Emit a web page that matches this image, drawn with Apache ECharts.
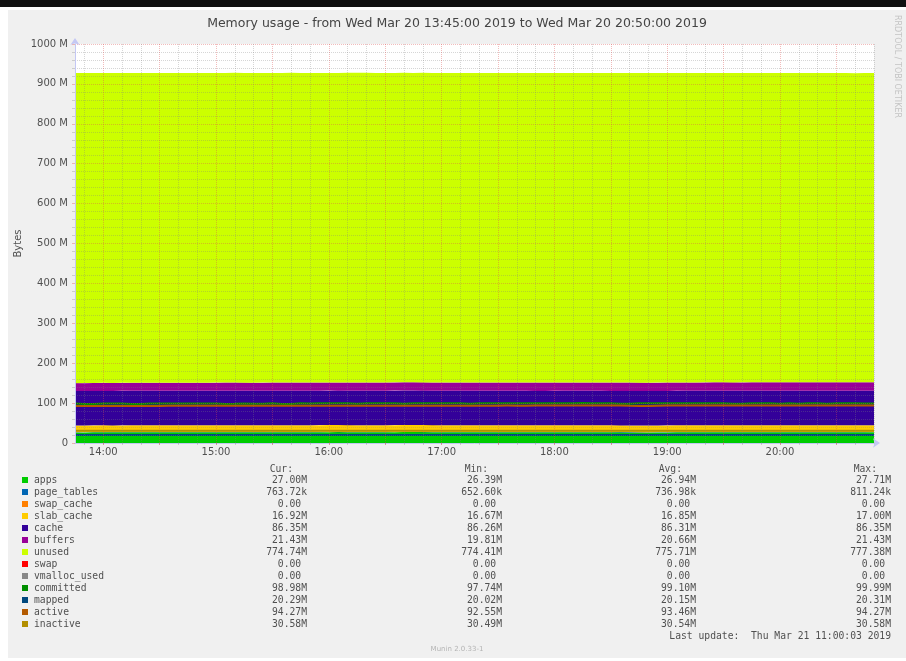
<!DOCTYPE html>
<html><head><meta charset="utf-8">
<script src="https://cdn.jsdelivr.net/npm/echarts@6/dist/echarts.min.js"></script>
<style>html,body{margin:0;padding:0;background:#fff;}#c{width:906px;height:661px;}</style>
</head><body><div id="c"></div>
<script>
// ---- categories (5-minute steps, 13:45 .. 20:50) ----
const times = [];
for (let m = 13 * 60 + 45; m <= 20 * 60 + 50; m += 5) {
  times.push(String(Math.floor(m / 60)).padStart(2, '0') + ':' + String(m % 60).padStart(2, '0'));
}
const yTicks = [0, 100, 200, 300, 400, 500, 600, 700, 800, 900, 1000];

// ---- series values (MB) ----
const apps = [
  26.62,26.58,26.71,26.80,26.75,26.69,26.88,26.93,26.84,26.79,
  26.90,27.02,26.95,26.87,26.81,26.92,27.10,27.05,26.98,26.91,
  26.86,26.99,27.15,27.08,26.97,26.89,26.93,27.21,27.34,27.12,
  27.03,26.95,26.88,26.92,27.01,27.43,27.71,27.36,27.14,27.02,
  26.96,26.90,26.85,26.79,26.88,26.94,27.06,26.98,26.91,26.84,
  26.77,26.70,26.83,26.92,26.99,26.87,26.80,26.74,26.68,26.61,
  26.55,26.49,26.39,26.52,26.66,26.78,26.85,26.93,27.04,26.97,
  26.90,26.86,26.95,27.08,27.01,26.94,26.88,26.92,26.99,27.06,
  27.11,27.03,26.96,26.91,26.97,27.00];
const pageTables = [
  0.66,0.65,0.67,0.69,0.70,0.71,0.70,0.72,0.71,0.73,
  0.72,0.74,0.73,0.72,0.74,0.75,0.74,0.73,0.75,0.76,
  0.74,0.73,0.75,0.76,0.78,0.77,0.75,0.74,0.76,0.77,
  0.79,0.81,0.78,0.76,0.75,0.74,0.73,0.75,0.74,0.73,
  0.74,0.75,0.73,0.72,0.74,0.75,0.74,0.76,0.75,0.74,
  0.73,0.74,0.75,0.73,0.72,0.74,0.75,0.76,0.74,0.73,
  0.72,0.73,0.74,0.75,0.74,0.73,0.75,0.76,0.74,0.75,
  0.76,0.74,0.73,0.75,0.76,0.77,0.75,0.74,0.75,0.76,
  0.77,0.75,0.74,0.76,0.77,0.764];
const swapCache = [
  0,0,0,0,0,0,0,0,0,0, 0,0,0,0,0,0,0,0,0,0, 0,0,0,0,0,0,0,0,0,0,
  0,0,0,0,0,0,0,0,0,0, 0,0,0,0,0,0,0,0,0,0, 0,0,0,0,0,0,0,0,0,0,
  0,0,0,0,0,0,0,0,0,0, 0,0,0,0,0,0,0,0,0,0, 0,0,0,0,0,0];
const slabCache = [
  16.70,16.67,16.72,16.75,16.78,16.74,16.80,16.83,16.79,16.81,
  16.84,16.82,16.86,16.88,16.85,16.83,16.87,16.90,16.86,16.84,
  16.82,16.85,16.89,16.91,16.87,16.84,16.86,16.88,16.92,16.95,
  16.90,16.87,16.85,16.83,16.86,16.89,16.93,17.00,16.96,16.91,
  16.88,16.85,16.83,16.86,16.84,16.82,16.85,16.88,16.86,16.83,
  16.81,16.84,16.86,16.83,16.80,16.82,16.85,16.87,16.84,16.82,
  16.79,16.81,16.84,16.86,16.83,16.85,16.88,16.86,16.84,16.87,
  16.89,16.86,16.84,16.87,16.90,16.88,16.85,16.87,16.90,16.93,
  16.91,16.88,16.86,16.89,16.91,16.92];
const cache = [
  86.28,86.26,86.27,86.29,86.30,86.29,86.31,86.30,86.32,86.31,
  86.30,86.31,86.32,86.30,86.29,86.31,86.32,86.33,86.31,86.30,
  86.29,86.31,86.32,86.31,86.30,86.32,86.33,86.31,86.30,86.32,
  86.33,86.31,86.30,86.29,86.31,86.32,86.30,86.31,86.32,86.33,
  86.31,86.30,86.32,86.31,86.29,86.30,86.32,86.33,86.31,86.30,
  86.31,86.32,86.30,86.29,86.31,86.32,86.33,86.31,86.30,86.32,
  86.31,86.30,86.29,86.31,86.32,86.33,86.32,86.31,86.30,86.32,
  86.33,86.32,86.31,86.33,86.34,86.32,86.31,86.33,86.34,86.33,
  86.32,86.34,86.33,86.34,86.35,86.35];
const buffers = [
  19.81,19.86,19.95,20.12,20.18,20.21,20.25,20.27,20.30,20.32,
  20.34,20.36,20.38,20.40,20.42,20.43,20.45,20.47,20.48,20.50,
  20.51,20.53,20.54,20.56,20.57,20.58,20.60,20.61,20.62,20.64,
  20.65,20.66,20.67,20.68,20.70,20.71,20.72,20.73,20.74,20.76,
  20.77,20.78,20.79,20.80,20.81,20.82,20.83,20.84,20.85,20.86,
  20.87,20.88,20.89,20.90,20.91,20.92,20.93,20.94,20.95,20.96,
  20.97,20.98,21.00,21.01,21.02,21.04,21.05,21.07,21.08,21.10,
  21.12,21.14,21.16,21.18,21.20,21.22,21.24,21.27,21.29,21.31,
  21.33,21.35,21.37,21.39,21.41,21.43];
const unused = [
  777.38,777.30,777.12,776.85,776.80,776.78,776.62,776.55,776.58,776.52,
  776.41,776.33,776.35,776.38,776.40,776.31,776.15,776.17,776.22,776.25,
  776.30,776.16,775.97,776.02,776.10,776.18,776.11,775.85,775.68,775.87,
  775.94,776.05,776.12,776.10,775.99,775.55,775.21,775.49,775.72,775.83,
  775.90,775.95,776.01,776.04,775.98,775.90,775.75,775.80,775.87,775.92,
  775.96,776.02,775.88,775.78,775.72,775.81,775.85,775.89,775.95,776.00,
  776.06,776.12,776.20,776.05,775.89,775.75,775.66,775.57,775.44,775.48,
  775.52,775.55,775.44,775.30,775.33,775.37,775.41,775.34,775.25,775.16,
  775.08,775.02,774.88,774.41,774.63,774.74];
const swap = [
  0,0,0,0,0,0,0,0,0,0, 0,0,0,0,0,0,0,0,0,0, 0,0,0,0,0,0,0,0,0,0,
  0,0,0,0,0,0,0,0,0,0, 0,0,0,0,0,0,0,0,0,0, 0,0,0,0,0,0,0,0,0,0,
  0,0,0,0,0,0,0,0,0,0, 0,0,0,0,0,0,0,0,0,0, 0,0,0,0,0,0];
const committed = [
  99.05,97.92,97.74,99.12,99.20,99.16,97.98,98.05,99.22,99.18,
  99.25,99.21,99.19,99.27,99.23,99.30,98.02,98.10,99.28,98.08,
  98.12,99.33,98.05,97.98,99.36,99.31,99.38,99.34,99.40,99.37,
  98.15,99.42,99.39,99.45,99.41,98.20,99.47,99.44,99.50,99.46,
  99.49,99.52,98.25,99.55,99.51,99.58,99.54,99.60,99.57,99.62,
  99.59,99.65,99.61,99.68,99.99,99.92,99.70,99.66,98.60,98.55,
  99.63,99.69,99.64,99.71,99.67,99.73,99.69,99.75,99.70,99.72,
  98.45,98.40,99.74,99.71,99.76,98.50,99.73,98.48,99.70,99.68,
  98.52,99.66,99.62,99.58,99.20,98.98];
const mapped = [
  20.05,20.02,20.04,20.07,20.08,20.06,20.09,20.10,20.08,20.11,
  20.12,20.10,20.13,20.11,20.14,20.12,20.15,20.13,20.11,20.14,
  20.16,20.14,20.12,20.15,20.17,20.15,20.13,20.16,20.18,20.16,
  20.14,20.17,20.19,20.17,20.15,20.18,20.20,20.18,20.16,20.19,
  20.17,20.15,20.18,20.16,20.14,20.17,20.19,20.17,20.15,20.18,
  20.16,20.14,20.17,20.15,20.13,20.16,20.18,20.16,20.14,20.17,
  20.15,20.13,20.16,20.18,20.16,20.14,20.17,20.19,20.21,20.19,
  20.17,20.20,20.22,20.20,20.18,20.21,20.23,20.25,20.23,20.26,
  20.24,20.27,20.29,20.31,20.28,20.29];
const active = [
  92.61,92.55,92.68,92.74,92.80,92.85,92.83,92.90,92.96,93.01,
  93.05,93.08,93.12,93.10,93.15,93.18,93.16,93.21,93.25,93.23,
  93.27,93.30,93.28,93.32,93.35,93.33,93.38,93.41,93.39,93.43,
  93.45,93.42,93.47,93.50,93.48,93.52,93.55,93.53,93.57,93.60,
  93.58,93.62,93.65,93.63,93.60,93.66,93.69,93.67,93.64,93.70,
  93.72,93.69,93.74,93.77,93.75,93.78,93.80,94.15,94.10,93.40,
  92.95,92.90,93.62,93.70,93.74,93.79,93.83,93.80,93.85,93.88,
  93.86,93.90,93.93,93.91,93.95,93.98,94.01,94.05,94.08,94.12,
  94.15,94.18,94.20,94.22,94.25,94.27];
const inactive = [
  30.50,30.49,30.51,30.52,30.51,30.53,30.52,30.54,30.53,30.52,
  30.54,30.53,30.55,30.54,30.53,30.55,30.54,30.56,30.55,30.54,
  30.53,30.55,30.54,30.56,30.55,30.54,30.53,30.55,30.54,30.56,
  30.55,30.57,30.56,30.54,30.55,30.53,30.54,30.56,30.55,30.54,
  30.53,30.55,30.54,30.52,30.54,30.55,30.53,30.54,30.56,30.55,
  30.54,30.53,30.55,30.54,30.56,30.55,30.53,30.54,30.52,30.53,
  30.55,30.54,30.53,30.55,30.54,30.56,30.55,30.54,30.53,30.55,
  30.54,30.56,30.55,30.57,30.56,30.54,30.55,30.57,30.56,30.55,
  30.56,30.57,30.55,30.56,30.57,30.58];

// ---- legend table ----
const legendNames = ['apps','page_tables','swap_cache','slab_cache','cache','buffers','unused','swap','vmalloc_used','committed','mapped','active','inactive'];
const legendCur = ['27.00M','763.72k','0.00 ','16.92M','86.35M','21.43M','774.74M','0.00 ','0.00 ','98.98M','20.29M','94.27M','30.58M'];
const legendMin = ['26.39M','652.60k','0.00 ','16.67M','86.26M','19.81M','774.41M','0.00 ','0.00 ','97.74M','20.02M','92.55M','30.49M'];
const legendAvg = ['26.94M','736.98k','0.00 ','16.85M','86.31M','20.66M','775.71M','0.00 ','0.00 ','99.10M','20.15M','93.46M','30.54M'];
const legendMax = ['27.71M','811.24k','0.00 ','17.00M','86.35M','21.43M','777.38M','0.00 ','0.00 ','99.99M','20.31M','94.27M','30.58M'];

const colors = {
  apps:'#00CC00', page_tables:'#0066B3', swap_cache:'#FF8000', slab_cache:'#FFCC00',
  cache:'#330099', buffers:'#990099', unused:'#CCFF00', swap:'#FF0000',
  vmalloc_used:'#888888', committed:'#008F00', mapped:'#00487D', active:'#B35A00', inactive:'#B38F00'
};

const areaSeries = [['apps',apps],['page_tables',pageTables],['swap_cache',swapCache],['slab_cache',slabCache],
  ['cache',cache],['buffers',buffers],['unused',unused],['swap',swap]];
const lineSeries = [['committed',committed],['mapped',mapped],['active',active],['inactive',inactive]];

const MINOR = 'rgba(128,128,128,0.32)';
const MAJOR = 'rgba(222,80,80,0.38)';
const AXIS = '#C4C8F4';
const TXT = '#505050';

const minuteOf = v => parseInt(v.slice(3), 10);

const series = [];
areaSeries.forEach(([n, d]) => {
  const visible = d.some(v => v > 0);
  series.push({
    name: n, type: 'line', stack: 'mem', data: d, step: 'start', symbol: 'none',
    xAxisIndex: 0, lineStyle: { width: 0, opacity: 0 }, itemStyle: { color: colors[n] },
    areaStyle: { color: colors[n], opacity: visible ? 1 : 0 }, z: 2, silent: true
  });
});
lineSeries.forEach(([n, d]) => {
  series.push({
    name: n, type: 'line', data: d, step: 'start', symbol: 'none', xAxisIndex: 0,
    lineStyle: { width: 2, color: colors[n] }, itemStyle: { color: colors[n] }, z: 3, silent: true
  });
});

// legend graphic
const MONO = 'DejaVu Sans Mono';
const FS = 9.7;
const legendEls = [];
const rowY0 = 480.5, rowH = 12;
const colRight = [307, 502, 696, 891];
const headers = ['Cur:', 'Min:', 'Avg:', 'Max:'];
headers.forEach((h, i) => legendEls.push({
  type: 'text', x: colRight[i] - 14, y: 469,
  style: { text: h, fill: TXT, font: FS + 'px "' + MONO + '"', align: 'right', verticalAlign: 'middle' }
}));
legendNames.forEach((n, k) => {
  const y = rowY0 + k * rowH;
  legendEls.push({ type: 'rect', shape: { x: 22, y: y - 3.5, width: 6, height: 6 }, style: { fill: colors[n] } });
  legendEls.push({ type: 'text', x: 34, y: y, style: { text: n, fill: TXT, font: FS + 'px "' + MONO + '"', align: 'left', verticalAlign: 'middle' } });
  [legendCur, legendMin, legendAvg, legendMax].forEach((arr, i) => {
    legendEls.push({ type: 'text', x: colRight[i], y: y, style: { text: arr[k], fill: TXT, font: FS + 'px "' + MONO + '"', align: 'right', verticalAlign: 'middle', whiteSpace: 'pre' } });
  });
});
legendEls.push({ type: 'text', x: 891, y: 636, style: { text: 'Last update:  Thu Mar 21 11:00:03 2019', fill: TXT, font: FS + 'px "' + MONO + '"', align: 'right', verticalAlign: 'middle' } });

const chart = echarts.init(document.getElementById('c'), null, { renderer: 'canvas' });
chart.setOption({
  animation: false,
  backgroundColor: '#ffffff',
  graphic: [
    { type: 'rect', z: -10, shape: { x: 0, y: 0, width: 906, height: 7 }, style: { fill: '#111111' } },
    { type: 'rect', z: -10, shape: { x: 8, y: 10, width: 898, height: 648 }, style: { fill: '#F0F0F0' } },
    { type: 'rect', z: -9, shape: { x: 75, y: 44, width: 799, height: 399 }, style: { fill: '#FFFFFF' } },
    { type: 'text', x: 457, y: 24, style: { text: 'Memory usage - from Wed Mar 20 13:45:00 2019 to Wed Mar 20 20:50:00 2019', fill: '#444444', font: '12.5px "DejaVu Sans"', align: 'center', verticalAlign: 'middle' } },
    { type: 'text', x: 897, y: 15, rotation: -Math.PI / 2, style: { text: 'RRDTOOL / TOBI OETIKER', fill: '#C4C4C4', font: '8px "DejaVu Sans"', align: 'left', verticalAlign: 'middle' } },
    { type: 'text', x: 457, y: 649, style: { text: 'Munin 2.0.33-1', fill: '#B4B4B4', font: '7px "DejaVu Sans"', align: 'center', verticalAlign: 'middle' } },
    { type: 'group', children: legendEls }
  ],
  grid: { left: 75, right: 32, top: 44, bottom: 218, containLabel: false },
  xAxis: [
    {
      type: 'category', data: times, boundaryGap: false, z: 10,
      axisLine: { show: true, lineStyle: { color: AXIS, width: 1 }, symbol: ['none', 'arrow'], symbolSize: [7, 7], symbolOffset: [0, 6] },
      axisTick: { show: true, length: 2, interval: (i, v) => minuteOf(v) % 10 === 0, lineStyle: { color: MINOR } },
      axisLabel: { interval: (i, v) => minuteOf(v) === 0, color: TXT, fontFamily: 'DejaVu Sans', fontSize: 10, margin: 4 },
      splitLine: { show: true, interval: (i, v) => minuteOf(v) % 10 === 0 && minuteOf(v) % 30 !== 0, lineStyle: { color: MINOR, type: [1, 1], width: 1 } }
    },
    {
      type: 'category', data: times, boundaryGap: false, z: 11, position: 'bottom',
      axisLine: { show: false },
      axisTick: { show: true, length: 2, interval: (i, v) => minuteOf(v) % 30 === 0, lineStyle: { color: MAJOR } },
      axisLabel: { show: false },
      splitLine: { show: true, interval: (i, v) => minuteOf(v) % 30 === 0, lineStyle: { color: MAJOR, type: [1, 1], width: 1 } }
    }
  ],
  yAxis: {
    type: 'value', min: yTicks[0], max: yTicks[yTicks.length - 1], interval: 100, z: 10,
    name: 'Bytes', nameLocation: 'middle', nameGap: 52, nameRotate: 90, nameMoveOverlap: false,
    nameTextStyle: { color: TXT, fontFamily: 'DejaVu Sans', fontSize: 10 },
    axisLine: { show: true, lineStyle: { color: AXIS, width: 1 }, symbol: ['none', 'arrow'], symbolSize: [7, 7], symbolOffset: [0, 6] },
    axisTick: { show: true, length: 3, lineStyle: { color: MAJOR } },
    minorTick: { show: true, splitNumber: 5, length: 3, lineStyle: { color: MINOR } },
    axisLabel: { color: TXT, fontFamily: 'DejaVu Sans', fontSize: 10, margin: 7, formatter: v => v === 0 ? '0' : v + ' M' },
    splitLine: { show: true, lineStyle: { color: MAJOR, type: [1, 1], width: 1 } },
    minorSplitLine: { show: true, lineStyle: { color: MINOR, type: [1, 1], width: 1 } }
  },
  series: series
});
</script>
</body></html>
